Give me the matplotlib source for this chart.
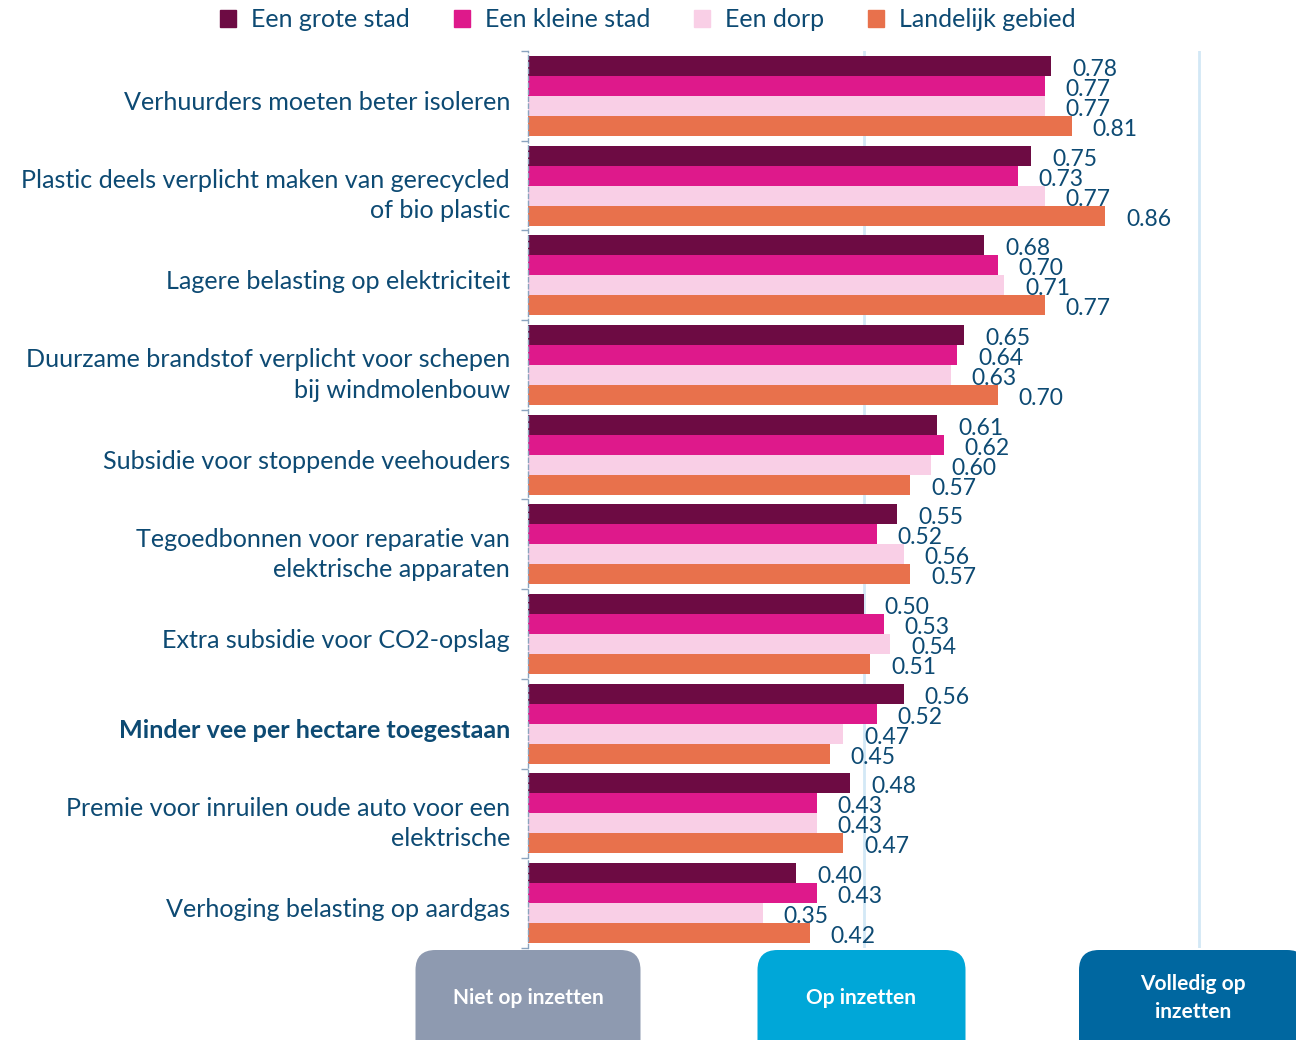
import matplotlib as mpl
import matplotlib.pyplot as plt
import numpy as np
from matplotlib.patches import Patch, FancyBboxPatch

# data
categories = [
    "Verhuurders moeten beter isoleren",
    "Plastic deels verplicht maken van gerecycled\nof bio plastic",
    "Lagere belasting op elektriciteit",
    "Duurzame brandstof verplicht voor schepen\nbij windmolenbouw",
    "Subsidie voor stoppende veehouders",
    "Tegoedbonnen voor reparatie van\nelektrische apparaten",
    "Extra subsidie voor CO2-opslag",
    "Minder vee per hectare toegestaan",
    "Premie voor inruilen oude auto voor een\nelektrische",
    "Verhoging belasting op aardgas",
]
series_names = ["Een grote stad", "Een kleine stad", "Een dorp", "Landelijk gebied"]
grote_stad = [0.78, 0.75, 0.68, 0.65, 0.61, 0.55, 0.50, 0.56, 0.48, 0.40]
kleine_stad = [0.77, 0.73, 0.70, 0.64, 0.62, 0.52, 0.53, 0.52, 0.43, 0.43]
dorp = [0.77, 0.77, 0.71, 0.63, 0.60, 0.56, 0.54, 0.47, 0.43, 0.35]
landelijk = [0.81, 0.86, 0.77, 0.70, 0.57, 0.57, 0.51, 0.45, 0.47, 0.42]
scale_labels = ["Niet op inzetten", "Op inzetten", "Volledig op\ninzetten"]
scale_values = [0.0, 0.5, 1.0]

colors = ["#6d0b43", "#de198b", "#f9cfe6", "#e8714c"]
box_colors = ["#8e9ab0", "#00a7d8", "#0067a0"]
txt = "#0d4a73"

plt.rcParams["font.family"] = ["Lato", "DejaVu Sans"]

fig = plt.figure(figsize=(12.96, 10.4), dpi=100)
ax = fig.add_axes([528 / 1296, 1 - 948 / 1040, 1 - 528 / 1296, 897 / 1040])

y = np.arange(len(categories))
h = 0.223
offsets = [-1.5 * h, -0.5 * h, 0.5 * h, 1.5 * h]
for vals, off, c, name in zip([grote_stad, kleine_stad, dorp, landelijk], offsets, colors, series_names):
    bars = ax.barh(y + off, vals, height=h, color=c, label=name, zorder=2)
    for b, v in zip(bars, vals):
        ax.annotate(f"{v:.2f}", (v, b.get_y() + b.get_height() / 2),
                    xytext=(15, -2.5), textcoords="offset points",
                    va="center", ha="left", fontsize=16.5, color=txt, zorder=3)

ax.set_xlim(0, 768 / 671)
ax.set_ylim(len(categories) - 0.5, -0.5)
for gx in [0.5, 1.0]:
    ax.axvline(gx, color="#d3e8f6", lw=2, zorder=1)

ax.set_xticks([])
ax.set_yticks(y + 0.05)
ax.set_yticklabels(categories, fontsize=18.1, color=txt, linespacing=1.38)
for lab in ax.get_yticklabels():
    if lab.get_text().startswith("Minder vee"):
        lab.set_fontweight("bold")
ax.tick_params(axis="y", which="major", length=0, pad=13)
ax.set_yticks(np.arange(-0.5, len(categories)), minor=True)
ax.tick_params(axis="y", which="minor", length=5, color="#8aa4bf", width=1)
for s in ["top", "right", "bottom"]:
    ax.spines[s].set_visible(False)
ax.spines["left"].set_linestyle((0, (3, 2)))
ax.spines["left"].set_color("#8aa4bf")
ax.spines["left"].set_linewidth(1)

handles = [Patch(color=c) for c in colors]
fig.legend(handles, series_names, loc="upper center", bbox_to_anchor=(0.5, 1.014),
           ncol=4, frameon=False, fontsize=18, labelcolor=txt,
           handlelength=0.65, handleheight=0.65, handletextpad=0.6, columnspacing=1.75)

# bottom scale boxes, in pixel coordinates on an overlay axes
ov = fig.add_axes([0, 0, 1, 1], facecolor="none")
ov.set_xlim(0, 1296)
ov.set_ylim(1040, 0)
ov.axis("off")
widths = [225, 208, 228]
shifts = [0, -2, -6]
for v, lab, c, w, s in zip(scale_values, scale_labels, box_colors, widths, shifts):
    cx = 528 + v * 671 + s
    box = FancyBboxPatch((cx - w / 2, 950), w, 130, boxstyle="round,pad=0,rounding_size=20",
                         facecolor=c, edgecolor="none")
    ov.add_patch(box)
    ov.text(cx, 998, lab, ha="center", va="center", color="white", fontsize=15,
            fontweight="bold", linespacing=1.45)

fig.savefig("out.png", dpi=100)
